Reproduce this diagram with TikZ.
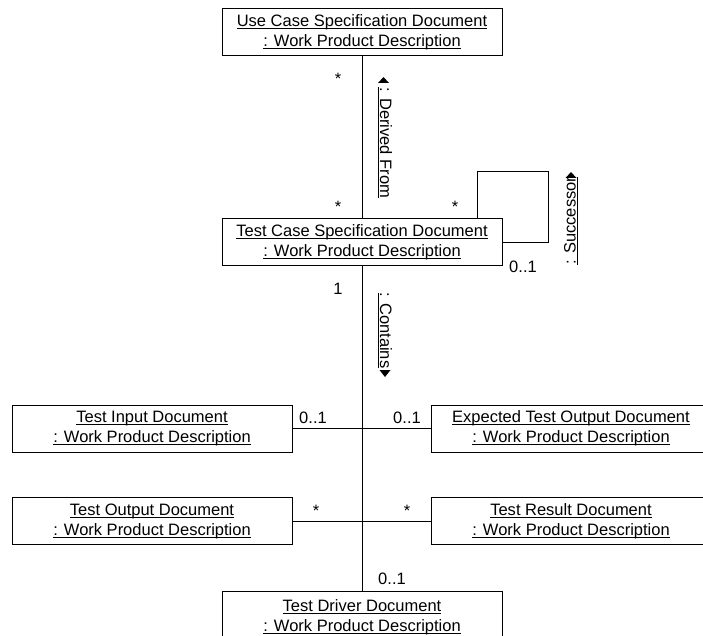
\documentclass[tikz,border=0pt]{standalone}
\usepackage{fontspec}
\setmainfont{Liberation Sans}
\usetikzlibrary{positioning}

% fixed-depth underline, as the diagram tool draws it
\newcommand{\ul}[1]{\leavevmode\setbox0=\hbox{#1}\rlap{\rule[-2.4pt]{\wd0}{0.9pt}}\box0}
% filled role direction triangle: apex x, apex y, signed height
\newcommand{\roletri}[3]{\fill (#1,#2) -- ++(-5.5,#3) -- ++(11,0) -- cycle;}

\begin{document}
\begin{tikzpicture}[x=1pt, y=-1pt, line width=1pt,
  every node/.style={font=\fontsize{16.5}{20}\selectfont, inner sep=0pt},
  wpd/.style={draw, fill=white, minimum width=280pt, minimum height=47pt, align=center},
  mult/.style={anchor=base},
  role/.style={anchor=base west}]
\useasboundingbox (0,0) rectangle (703,636);
\clip (0,0) rectangle (703,636);

% Work product instances
\node[wpd] (usecase) at (362,32) {\ul{Use Case Specification Document}\\\ul{: Work Product Description}};
\node[wpd] (testcase) at (362,242) {\ul{Test Case Specification Document}\\\ul{: Work Product Description}};
\node[wpd] (testinput) at (152,428.5) {\ul{Test Input Document}\\\ul{: Work Product Description}};
\node[wpd] (expected) at (571,428.5) {\ul{Expected Test Output Document}\\\ul{: Work Product Description}};
\node[wpd] (testoutput) at (152,521) {\ul{Test Output Document}\\\ul{: Work Product Description}};
\node[wpd] (testresult) at (571,521) {\ul{Test Result Document}\\\ul{: Work Product Description}};
\node[wpd, minimum height=52pt] (testdriver) at (362,617) {\ul{Test Driver Document}\\\ul{: Work Product Description}};

% Links
\draw (usecase) -- (testcase);
\draw (testcase) -- (testdriver);
\draw (testinput) -- (expected);
\draw (testoutput) -- (testresult);
\coordinate (loopcorner) at (548,172);
\draw ([xshift=-25pt]testcase.north east) |- (loopcorner) |- (testcase.east);

% Multiplicities
\node[mult] (mucase) at (338,85) {*};
\node[mult] (mtcase) at (338,213) {*};
\node[mult] (mloopa) at (455,213) {*};
\node[mult] (mloopb) at (523,272) {0..1};
\node[mult] (mcontain) at (338,294) {1};
\node[mult] (minput) at (313,423) {0..1};
\node[mult] (mexpect) at (407,423) {0..1};
\node[mult] (moutput) at (316,516) {*};
\node[mult] (mresult) at (407,516) {*};
\node[mult] (mdriver) at (392,584) {0..1};

% Role names
\node[role, rotate=-90] (derived) at (380,87) {\ul{: Derived From}};
\node[role, rotate=-90] (contains) at (380,292) {\ul{: Contains}};
\node[role, rotate=90] (successor) at (575.5,265) {\ul{: Successor}};
\roletri{383.5}{77}{6}
\roletri{385}{377}{-7}
\roletri{571}{172}{6}
\end{tikzpicture}
\end{document}
